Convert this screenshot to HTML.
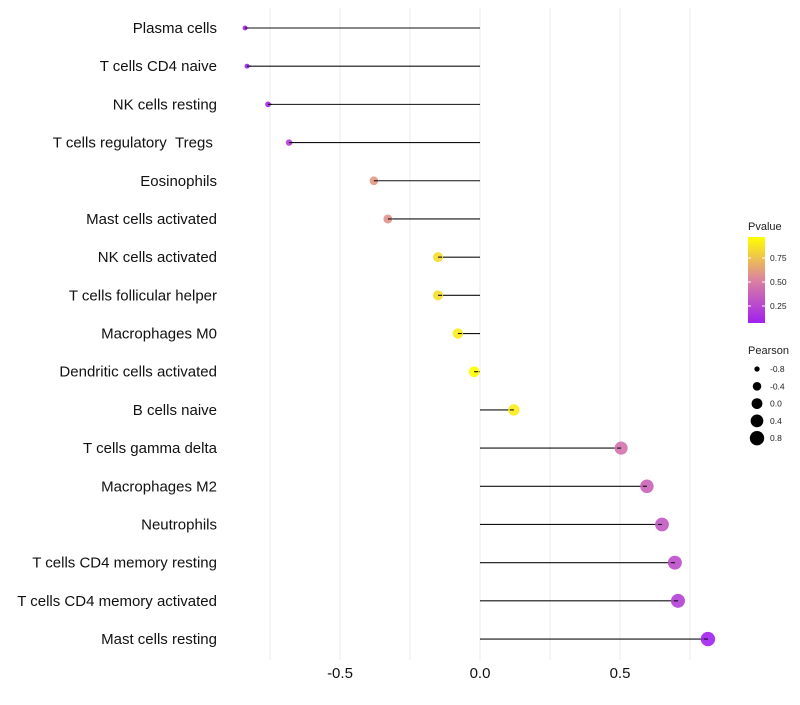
<!DOCTYPE html>
<html><head><meta charset="utf-8"><style>
body{margin:0;background:#fff;font-family:"Liberation Sans",sans-serif}
</style></head><body>
<svg id="c" width="800" height="700" xmlns="http://www.w3.org/2000/svg"></svg>
<script>
const cells=["Plasma cells","T cells CD4 naive","NK cells resting","T cells regulatory\u00a0\u00a0Tregs\u00a0","Eosinophils","Mast cells activated","NK cells activated","T cells follicular helper","Macrophages M0","Dendritic cells activated","B cells naive","T cells gamma delta","Macrophages M2","Neutrophils","T cells CD4 memory resting","T cells CD4 memory activated","Mast cells resting"];
const pearson=[-0.839,-0.832,-0.757,-0.682,-0.379,-0.329,-0.15,-0.15,-0.079,-0.021,0.121,0.504,0.596,0.65,0.696,0.707,0.814];
const pvalue=[0.05,0.06,0.1,0.2,0.6,0.58,0.85,0.85,0.9,1.0,0.9,0.45,0.38,0.33,0.28,0.22,0.08];
const xTicks=[-0.5,0,0.5];
const xTickLabels=["-0.5","0.0","0.5"];
const pTicks=[0.25,0.5,0.75];
const sizeTicks=[-0.8,-0.4,0,0.4,0.8];
const NS="http://www.w3.org/2000/svg";
const svg=document.getElementById('c');
function mk(t,a,p){const e=document.createElementNS(NS,t);for(const k in a)e.setAttribute(k,a[k]);(p||svg).appendChild(e);return e;}
const x=v=>480+v*280;
const y=i=>28+i*38.19;
const r=v=>Math.sqrt(6+(v+0.84)/1.66*46);
function col(p){let t=(p-0.073)/(0.969-0.073);t=Math.max(0,Math.min(1,t));
 const a=[160,32,240],m=[220,130,160],b=[255,255,0];
 let c;if(t<0.5){const s=t/0.5;c=a.map((v,k)=>v+(m[k]-v)*s);}else{const s=(t-0.5)/0.5;c=m.map((v,k)=>v+(b[k]-v)*s);}
 return `rgb(${c.map(Math.round).join(',')})`;}
[-0.75,-0.5,-0.25,0,0.25,0.5,0.75].forEach(v=>{const g=mk('line',{x1:x(v),x2:x(v),y1:8,y2:660,stroke:'#ebebeb','stroke-width':1});

});
xTicks.forEach((v,i)=>{const t=mk('text',{x:x(v),y:678,'text-anchor':'middle','font-size':15,fill:'#111'});t.textContent=xTickLabels[i];

});
cells.forEach((c,i)=>{
 const t=mk('text',{x:217,y:y(i)+5,'text-anchor':'end','font-size':15,fill:'#111'});t.textContent=c;
 
 
 const l=mk('line',{x1:x(0),x2:x(pearson[i]),y1:y(i),y2:y(i),stroke:'#111','stroke-width':1.1});
 
 
 const d=mk('circle',{cx:x(pearson[i]),cy:y(i),r:r(pearson[i]),fill:col(pvalue[i]),'fill-opacity':0.9});
 
 
 mk('line',{x1:x(pearson[i]),x2:x(pearson[i])+ (pearson[i]<0?4:-4),y1:y(i),y2:y(i),stroke:'#111','stroke-width':1.1});
});
const defs=mk('defs',{});const lg=mk('linearGradient',{id:'g',x1:0,y1:1,x2:0,y2:0},defs);
for(let k=0;k<=10;k++){const p=0.073+k/10*(0.969-0.073);mk('stop',{offset:k/10,'stop-color':col(p)},lg);}
const lt=mk('text',{x:748,y:230,'font-size':11,fill:'#222'});lt.textContent='Pvalue';


const bar=mk('rect',{x:748,y:237,width:17,height:86,fill:'url(#g)'});


const py=p=>323-(p-0.073)/(0.969-0.073)*86;
pTicks.forEach(p=>{mk('line',{x1:748,x2:751,y1:py(p),y2:py(p),stroke:'#fff'});mk('line',{x1:762,x2:765,y1:py(p),y2:py(p),stroke:'#fff'});
 const t=mk('text',{x:770,y:py(p)+3,'font-size':8.5,fill:'#222'});t.textContent=p.toFixed(2);
 
 });
const st=mk('text',{x:748,y:354,'font-size':11,fill:'#222'});st.textContent='Pearson';


sizeTicks.forEach((v,k)=>{const cy=369+k*17.3;
 const d=mk('circle',{cx:757,cy:cy,r:r(v),fill:'#000'});
 
 
 const t=mk('text',{x:770,y:cy+3,'font-size':8.5,fill:'#222'});t.textContent=v.toFixed(1);
 
 });
</script>
</body></html>
